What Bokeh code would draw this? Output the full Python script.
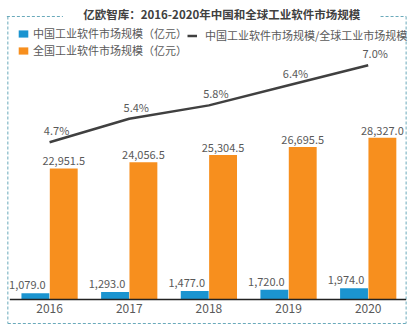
from bokeh.plotting import figure
from bokeh.models import (ColumnDataSource, Range1d, FactorRange, Legend, LegendItem)
from bokeh.transform import dodge
from bokeh.core.properties import value
from bokeh.embed import file_html
from bokeh.resources import INLINE

# ---- data ----
years = ["2016", "2017", "2018", "2019", "2020"]
china = [1079.0, 1293.0, 1477.0, 1720.0, 1974.0]
world = [22951.5, 24056.5, 25304.5, 26695.5, 28327.0]
share = [4.7, 5.4, 5.8, 6.4, 7.0]

title_text = "亿欧智库：2016-2020年中国和全球工业软件市场规模"
name_china = "中国工业软件市场规模（亿元）"
name_world = "全国工业软件市场规模（亿元）"
name_share = "中国工业软件市场规模/全球工业市场规模"

BLUE = "#1b94d0"
ORANGE = "#f78f1e"
LINE = "#404040"
GREY = "#595959"
BORDER = "#6aaabb"
FONT = "Noto Sans CJK SC"

W, H = 412, 329
BASE = 299          # pixel row of the category axis
PX_PER_VAL = 0.005708
PX_PER_PCT = 33.47
PAD = 0.086         # categorical padding (total)
SPAN = len(years) + PAD
SHIFT = 0.03        # small rightward nudge of the category centres


def px_x(x):
    """pixel column -> synthetic categorical coordinate"""
    return -PAD / 2 + x * SPAN / W


src = ColumnDataSource(dict(
    year=years, china=china, world=world, share=share,
    china_lbl=[f"{v:,.1f}" for v in china],
    world_lbl=[f"{v:,.1f}" for v in world],
    share_lbl=[f"{v:.1f}%" for v in share],
))

p = figure(width=W, height=H,
           x_range=FactorRange(factors=years, range_padding=PAD, range_padding_units="absolute"),
           y_range=Range1d(-(H - BASE) / PX_PER_VAL, BASE / PX_PER_VAL),
           output_backend="svg", toolbar_location=None,
           x_axis_location=None, y_axis_location=None,
           min_border=0, min_border_left=0, min_border_right=0,
           min_border_top=0, min_border_bottom=0)
p.extra_y_ranges = {"pct": Range1d(-(H - BASE) / PX_PER_PCT, BASE / PX_PER_PCT),
                    "py": Range1d(H, 0)}
p.grid.visible = False
p.outline_line_color = None
p.background_fill_color = "white"
p.border_fill_color = "white"

# ---- dashed frame (pixel coordinates) ----
p.multi_line(xs=[[px_x(3), px_x(60)], [px_x(383), px_x(409)], [px_x(4), px_x(4)],
                 [px_x(409), px_x(409)], [px_x(4), px_x(409)]],
             ys=[[16, 16], [16, 16], [16, 323], [16, 323], [323, 323]],
             y_range_name="py",
             line_color=BORDER, line_width=1, line_dash="3 2")

# ---- title ----
p.text(x=[px_x(221.5)], y=[13], text=[title_text], y_range_name="py",
       text_align="center", text_baseline="middle", text_font=value(FONT),
       text_font_size="11.5px", text_font_style="bold", text_color="#404040")

# ---- bars and line ----
xc = dodge("year", SHIFT, range=p.x_range)
xb = dodge("year", SHIFT - 0.178, range=p.x_range)
xo = dodge("year", SHIFT + 0.178, range=p.x_range)

blue_r = p.vbar(x=xb, top="china", width=0.35,
                source=src, fill_color=BLUE, line_color=None)
orange_r = p.vbar(x=xo, top="world", width=0.35,
                  source=src, fill_color=ORANGE, line_color=None)
line_r = p.line(x=xc, y="share", y_range_name="pct", source=src,
                line_color=LINE, line_width=2.5)

# ---- value labels ----
p.text(x=xo, y="world", text="world_lbl", source=src,
       text_align="center", text_baseline="bottom", y_offset=-3,
       text_font_size="11px", text_color=GREY, text_font=value(FONT))
p.text(x=xb, y="china", text="china_lbl", source=src,
       text_align="center", text_baseline="bottom", y_offset=-4, x_offset=-8,
       text_font_size="11px", text_color=GREY, text_font=value(FONT))
p.text(x=xc, y="share", text="share_lbl", source=src, y_range_name="pct",
       text_align="center", text_baseline="bottom", y_offset=-4, x_offset=7,
       text_font_size="11px", text_color=GREY, text_font=value(FONT))

# ---- category axis ----
p.segment(x0=[px_x(6)], x1=[px_x(409)], y0=[0], y1=[0],
          line_color="#222222", line_width=1.5)
p.text(x=xc, y=0, text="year", source=src,
       text_align="center", text_baseline="top", y_offset=4,
       text_font_size="12px", text_color=GREY, text_font=value(FONT))

# ---- legends ----
leg1 = Legend(items=[LegendItem(label=name_china, renderers=[blue_r]),
                     LegendItem(label=name_world, renderers=[orange_r])],
              location=(17, H - 58), orientation="vertical", glyph_width=12, glyph_height=9,
              label_standoff=4, label_text_font_size="11px", label_text_color=GREY,
              label_text_font=FONT, padding=0, margin=0, spacing=1, label_height=13,
              border_line_color=None, background_fill_alpha=0)
leg2 = Legend(items=[LegendItem(label=name_share, renderers=[line_r])],
              location=(187, H - 43), orientation="vertical", glyph_width=10, glyph_height=9,
              label_standoff=8, label_text_font_size="11px", label_text_color=GREY,
              label_text_font=FONT, padding=0, margin=0, spacing=1, label_height=13,
              border_line_color=None, background_fill_alpha=0)
p.add_layout(leg1)
p.add_layout(leg2)

open("out.html", "w").write(file_html(p, INLINE))
